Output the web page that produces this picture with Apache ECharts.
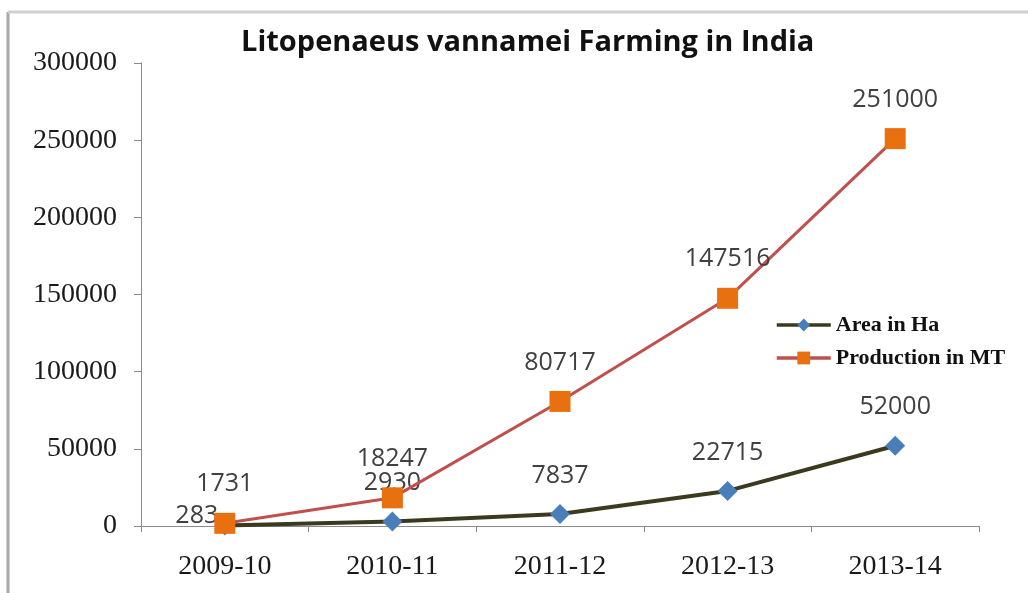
<!DOCTYPE html>
<html>
<head>
<meta charset="utf-8">
<script src="https://cdn.jsdelivr.net/npm/echarts@6/dist/echarts.min.js"></script>
<style>
  html, body { margin: 0; padding: 0; background: #fff; }
  #chart { width: 1028px; height: 593px; }
</style>
</head>
<body>
<div id="chart"></div>
<script>
const years = ['2009-10', '2010-11', '2011-12', '2012-13', '2013-14']
const areaHa = [283, 2930, 7837, 22715, 52000]
const productionMT = [1731, 18247, 80717, 147516, 251000]
const yTicks = { min: 0, max: 300000, step: 50000 }

const chart = echarts.init(document.getElementById('chart'))

const labelStyle = {
  show: true,
  position: 'top',
  distance: 16,
  fontFamily: 'Open Sans',
  fontSize: 25,
  color: '#404040',
}

chart.setOption({
  animation: false,
  title: {
    text: 'Litopenaeus vannamei Farming in India',
    left: 236,
    top: 23,
    textStyle: { fontFamily: 'Open Sans', fontWeight: 'bold', fontSize: 29, color: '#111' },
  },
  legend: {
    orient: 'vertical',
    left: 770,
    top: 309,
    itemWidth: 54,
    itemHeight: 16,
    itemGap: 11,
    lineStyle: { width: 3.5 },
    textStyle: { fontFamily: 'Liberation Serif', fontWeight: 'bold', fontSize: 22, color: '#111' },
    data: ['Area in Ha', 'Production in MT'],
  },
  grid: { left: 141, right: 49, top: 63, bottom: 67 },
  xAxis: {
    type: 'category',
    data: years,
    boundaryGap: true,
    axisLine: { lineStyle: { color: '#8a8a8a', width: 1 } },
    axisTick: { show: true, length: 6, lineStyle: { color: '#8a8a8a' } },
    axisLabel: { margin: 27, fontFamily: 'Liberation Serif', fontSize: 28, color: '#1a1a1a' },
  },
  yAxis: {
    type: 'value',
    min: yTicks.min,
    max: yTicks.max,
    interval: yTicks.step,
    axisLine: { show: true, lineStyle: { color: '#8a8a8a', width: 1 } },
    axisTick: { show: true, length: 7, lineStyle: { color: '#8a8a8a' } },
    axisLabel: {
      margin: 24,
      fontFamily: 'Liberation Serif',
      fontSize: 28,
      color: '#1a1a1a',
      formatter: (v) => String(v),
    },
    splitLine: { show: false },
  },
  graphic: [
    { type: 'line', shape: { x1: 8, y1: 12, x2: 8, y2: 593 }, style: { stroke: '#a8a8a8', lineWidth: 3 } },
    { type: 'line', shape: { x1: 8, y1: 12, x2: 1028, y2: 12 }, style: { stroke: '#cfcfcf', lineWidth: 3 } },
  ],
  series: [
    {
      name: 'Area in Ha',
      type: 'line',
      data: areaHa.map((v, i) => i === 0
        ? { value: v, label: { offset: [-28, 29] } }
        : v),
      symbol: 'diamond',
      symbolSize: 20,
      lineStyle: { color: '#3b3a1e', width: 4 },
      itemStyle: { color: '#4a7ebb' },
      label: labelStyle,
      z: 2,
    },
    {
      name: 'Production in MT',
      type: 'line',
      data: productionMT,
      symbol: 'rect',
      symbolSize: 21,
      lineStyle: { color: '#c0504d', width: 3 },
      itemStyle: { color: '#e8700f' },
      label: labelStyle,
      z: 3,
    },
  ],
})
</script>
</body>
</html>
